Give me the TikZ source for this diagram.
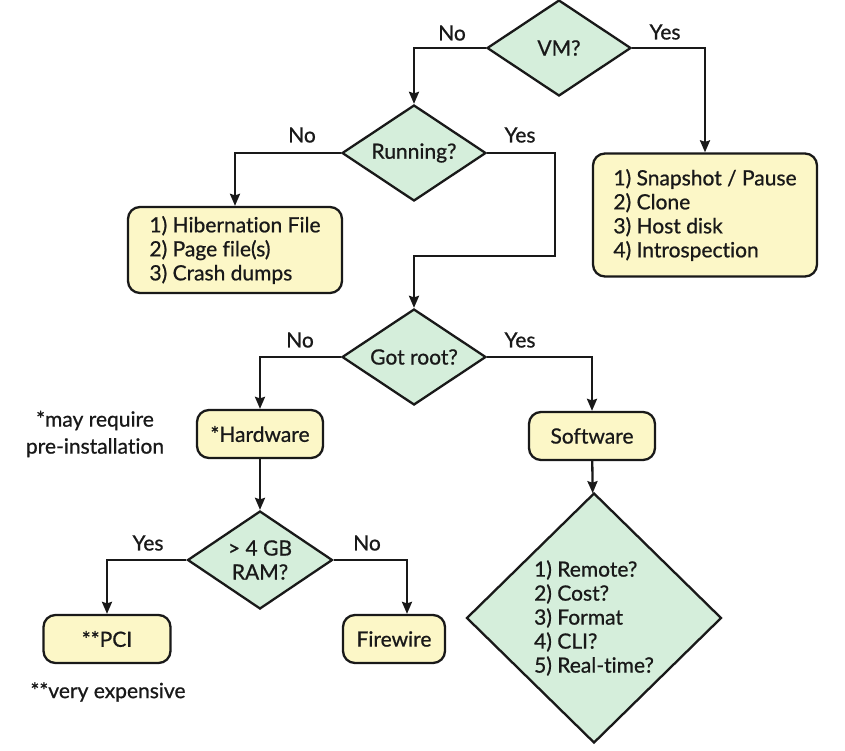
\documentclass[tikz,border=0pt]{standalone}
\usepackage{fontspec}
\setmainfont{Lato}[Ligatures=NoCommon,FakeBold=0.8]
\usetikzlibrary{shapes.geometric,arrows.meta}

\definecolor{mint}{RGB}{213,238,219}
\definecolor{cream}{RGB}{252,247,199}
\definecolor{ink}{RGB}{25,25,25}

\begin{document}
\begin{tikzpicture}[x=1pt,y=-1pt,
        every node/.style={text=ink,font=\fontsize{21}{24}\selectfont},
        decision/.style={diamond,draw=ink,fill=mint,line width=2.3pt,inner sep=0pt,aspect=1.5},
        outcome/.style={rectangle,rounded corners=12pt,draw=ink,fill=cream,line width=2.3pt,inner sep=0pt,align=left},
        link/.style={-{Stealth[length=12pt,width=10pt,inset=1.5pt]},line width=2.3pt,draw=ink}]
            \useasboundingbox (0,0) rectangle (845,750);

            % questions
            \node[decision,minimum width=144pt,minimum height=96pt] (vm) at (559,48) {VM?};
            \node[decision,minimum width=144pt,minimum height=96pt] (run) at (414,153) {Running?};
            \node[decision,minimum width=144pt,minimum height=96pt] (root) at (414,357) {Got root?};
            \node[decision,minimum width=145pt,minimum height=98pt,align=center] (ram) at (260,560) {> 4 GB\\RAM?};
            \node[decision,aspect=1,minimum width=255pt,minimum height=250pt,align=left] (tools) at (594,618) {1) Remote?\\2) Cost?\\3) Format\\4) CLI?\\5) Real-time?};

            % answers
            \node[outcome,minimum width=214pt,minimum height=86pt] (hib) at (235,250) {1) Hibernation File\\2) Page file(s)\\3) Crash dumps};
            \node[outcome,minimum width=224pt,minimum height=123pt] (snap) at (705,215) {1) Snapshot / Pause\\2) Clone\\3) Host disk\\4) Introspection};
            \node[outcome,minimum width=126pt,minimum height=48pt] (hw) at (260,434) {*Hardware};
            \node[outcome,minimum width=126pt,minimum height=48pt] (sw) at (592,436) {Software};
            \node[outcome,minimum width=127pt,minimum height=48pt] (pci) at (107,639) {**PCI};
            \node[outcome,minimum width=102pt,minimum height=48pt] (fw) at (394,639) {Firewire};

            % notes
            \node[align=center,font=\fontsize{21}{27}\selectfont] (preinst) at (95,434) {*may require\\pre-installation};
            \node (pricey) at (108,692) {**very expensive};

            % branch labels
            \node (vmno) at (452,33) {No};
            \node (vmyes) at (665,32) {Yes};
            \node (runno) at (302,135) {No};
            \node (runyes) at (520,135) {Yes};
            \node (rootno) at (300,340) {No};
            \node (rootyes) at (520,340) {Yes};
            \node (ramyes) at (148,543) {Yes};
            \node (ramno) at (367,543) {No};

            \coordinate (detour) at (555,256);
            \draw[link] (vm.west) -| (run.north);
            \draw[link] (vm.east) -| (snap.north);
            \draw[link] (run.west) -| (hib.north);
            \draw[link] (run.east) -| (detour) -| (root.north);
            \draw[link] (root.west) -| (hw.north);
            \draw[link] (root.east) -| (sw.north);
            \draw[link] (hw) -- (ram);
            \draw[link] (sw) -- (tools);
            \draw[link] (ram.west) -| (pci.north);
            \draw[link] (ram.east) -| ([xshift=13pt]fw.north);
        \end{tikzpicture}
\end{document}
